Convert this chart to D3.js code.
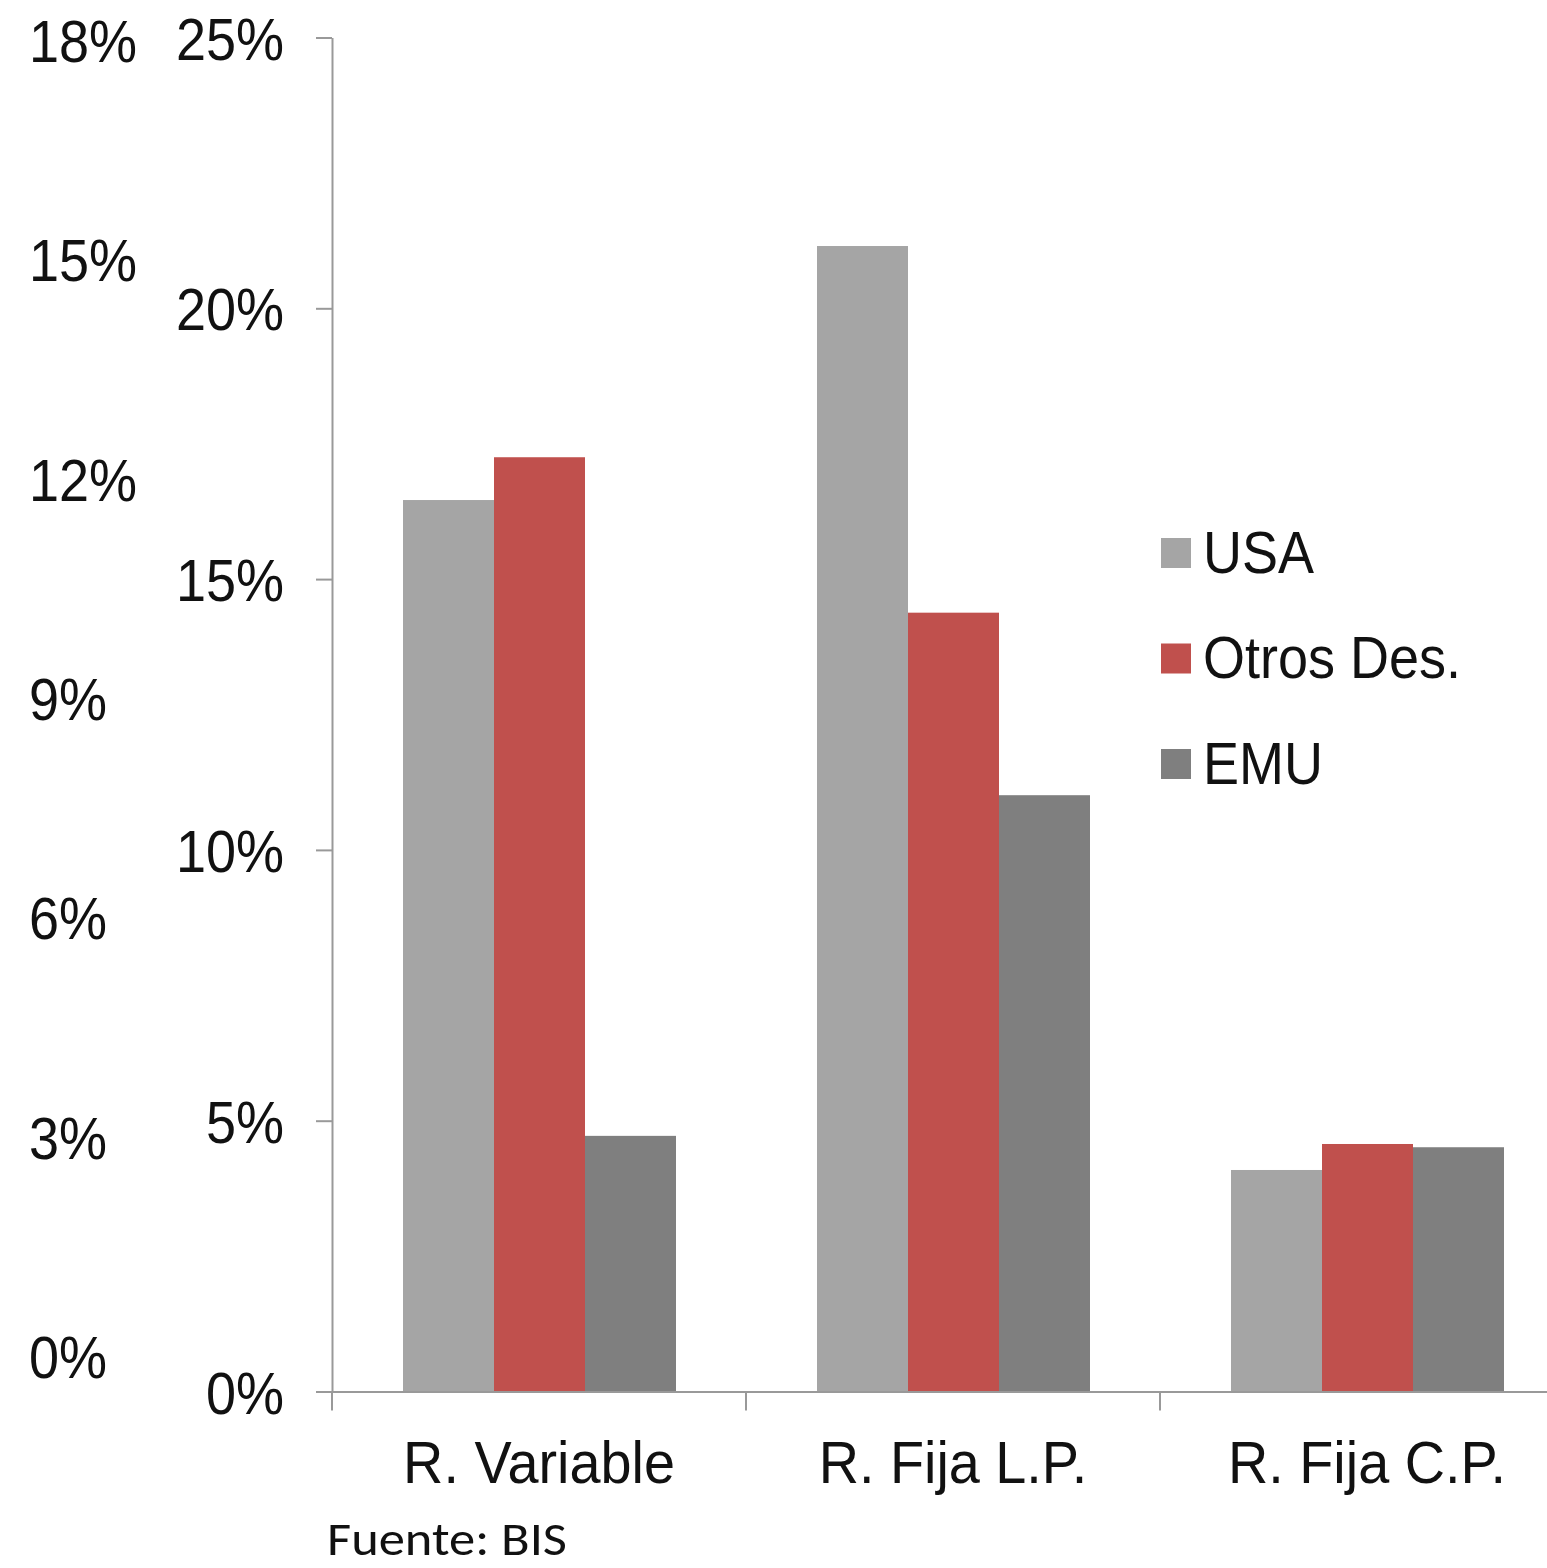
<!DOCTYPE html>
<html>
<head>
<meta charset="utf-8">
<script src="https://cdn.jsdelivr.net/npm/d3@7"></script>
<style>
  body { margin: 0; background: #fff; }
  svg { display: block; }
  text { font-family: "Liberation Sans", Arial, sans-serif; fill: #111; }
</style>
</head>
<body>
<svg id="chart" width="1547" height="1568"></svg>
<script>
// Asset class categories and series
const categories = ["R. Variable", "R. Fija L.P.", "R. Fija C.P."];
const seriesNames = ["USA", "Otros Des.", "EMU"];

// Values in percent, one per category
const usaValues   = [16.46, 21.15, 4.09];
const otrosValues = [17.25, 14.38, 4.57];
const emuValues   = [4.72, 11.01, 4.51];

// Tick values for the main (right) and secondary (left) percentage scales
const mainTicks = [0, 5, 10, 15, 20, 25];
const secondaryTicks = [0, 3, 6, 9, 12, 15, 18];

const sourceNote = "Fuente: BIS";

const seriesColors = ["#a5a5a5", "#c0504d", "#7f7f7f"];
const seriesValues = [usaValues, otrosValues, emuValues];

const svg = d3.select("#chart");
const FONT = 60;
const SX = 0.9; // horizontal squeeze of the label font

// Scales
const y = d3.scaleLinear().domain([0, 25]).range([1391.5, 37.5]);
const y2 = d3.scaleLinear().domain([0, 18]).range([1356, 40]);
const x0 = d3.scaleBand().domain(categories).range([332, 1574]).padding(0);
const x1 = d3.scaleBand().domain(seriesNames).range([71, x0.bandwidth() - 70]).padding(0);
const color = d3.scaleOrdinal().domain(seriesNames).range(seriesColors);

const rows = categories.map((c, i) => ({
  category: c,
  values: seriesNames.map((s, j) => ({ series: s, value: seriesValues[j][i] }))
}));

// Bars
const groups = svg.append("g").selectAll("g")
  .data(rows).join("g")
  .attr("transform", d => `translate(${x0(d.category)},0)`);

groups.selectAll("rect")
  .data(d => d.values).join("rect")
  .attr("x", d => x1(d.series))
  .attr("width", x1.bandwidth())
  .attr("y", d => y(d.value))
  .attr("height", d => y(0) - y(d.value))
  .attr("fill", d => color(d.series));

// Main percentage axis
const yAxis = svg.append("g")
  .attr("transform", "translate(332,0)")
  .call(d3.axisLeft(y).tickValues(mainTicks).tickFormat(d => d + "%")
    .tickSizeInner(16).tickSizeOuter(0));
yAxis.select(".domain").attr("stroke", "#999").attr("stroke-width", 2);
yAxis.selectAll(".tick line").attr("stroke", "#999").attr("stroke-width", 2);
yAxis.selectAll(".tick text")
  .attr("x", null)
  .attr("dy", "0.36em")
  .attr("text-anchor", "end")
  .attr("transform", `translate(-48,0) scale(${SX},1)`)
  .style("font-size", FONT + "px")
  .style("font-family", "'Liberation Sans', Arial, sans-serif")
  .attr("fill", "#111");

// Secondary percentage labels on the far left
const y2Axis = svg.append("g")
  .attr("transform", "translate(29,0)")
  .call(d3.axisRight(y2).tickValues(secondaryTicks).tickFormat(d => d + "%")
    .tickSizeInner(0).tickSizeOuter(0).tickPadding(0));
y2Axis.select(".domain").remove();
y2Axis.selectAll(".tick line").remove();
y2Axis.selectAll(".tick text")
  .attr("x", null)
  .attr("dy", "0.36em")
  .attr("text-anchor", "start")
  .attr("transform", `scale(${SX},1)`)
  .style("font-size", FONT + "px")
  .style("font-family", "'Liberation Sans', Arial, sans-serif")
  .attr("fill", "#111");

// Category axis
const xAxis = svg.append("g")
  .attr("transform", `translate(0,${y(0)})`)
  .call(d3.axisBottom(x0).tickSizeInner(0).tickSizeOuter(0));
xAxis.select(".domain").attr("stroke", "#999").attr("stroke-width", 2);
xAxis.selectAll(".tick text")
  .attr("y", 91.5)
  .attr("dy", 0)
  .attr("transform", "scale(0.93,1)")
  .style("font-size", FONT + "px")
  .style("font-family", "'Liberation Sans', Arial, sans-serif")
  .attr("fill", "#111");
xAxis.selectAll(".tick line").remove();

// Category boundary ticks
const boundaries = categories.map(c => x0(c)).concat([x0.range()[1]]);
xAxis.append("g").selectAll("line")
  .data(boundaries).join("line")
  .attr("x1", d => d).attr("x2", d => d)
  .attr("y1", 0).attr("y2", 19)
  .attr("stroke", "#999").attr("stroke-width", 2);

// Legend
const legend = svg.append("g").attr("transform", "translate(1161,553)");
const items = legend.selectAll("g")
  .data(seriesNames).join("g")
  .attr("transform", (d, i) => `translate(0,${i * 105.5})`);
items.append("rect")
  .attr("x", 0).attr("y", -15)
  .attr("width", 30).attr("height", 30)
  .attr("fill", d => color(d));
items.append("text")
  .attr("transform", `translate(42,0) scale(${SX},1)`)
  .attr("dy", "0.33em")
  .style("font-size", FONT + "px")
  .text(d => d);

// Source note
svg.append("text")
  .attr("x", 327).attr("y", 1555)
  .attr("textLength", 240)
  .attr("lengthAdjust", "spacingAndGlyphs")
  .style("font-family", "Carlito, Lato, 'Open Sans', sans-serif")
  .style("font-size", "47px")
  .attr("fill", "#000")
  .text(sourceNote);
</script>
</body>
</html>
